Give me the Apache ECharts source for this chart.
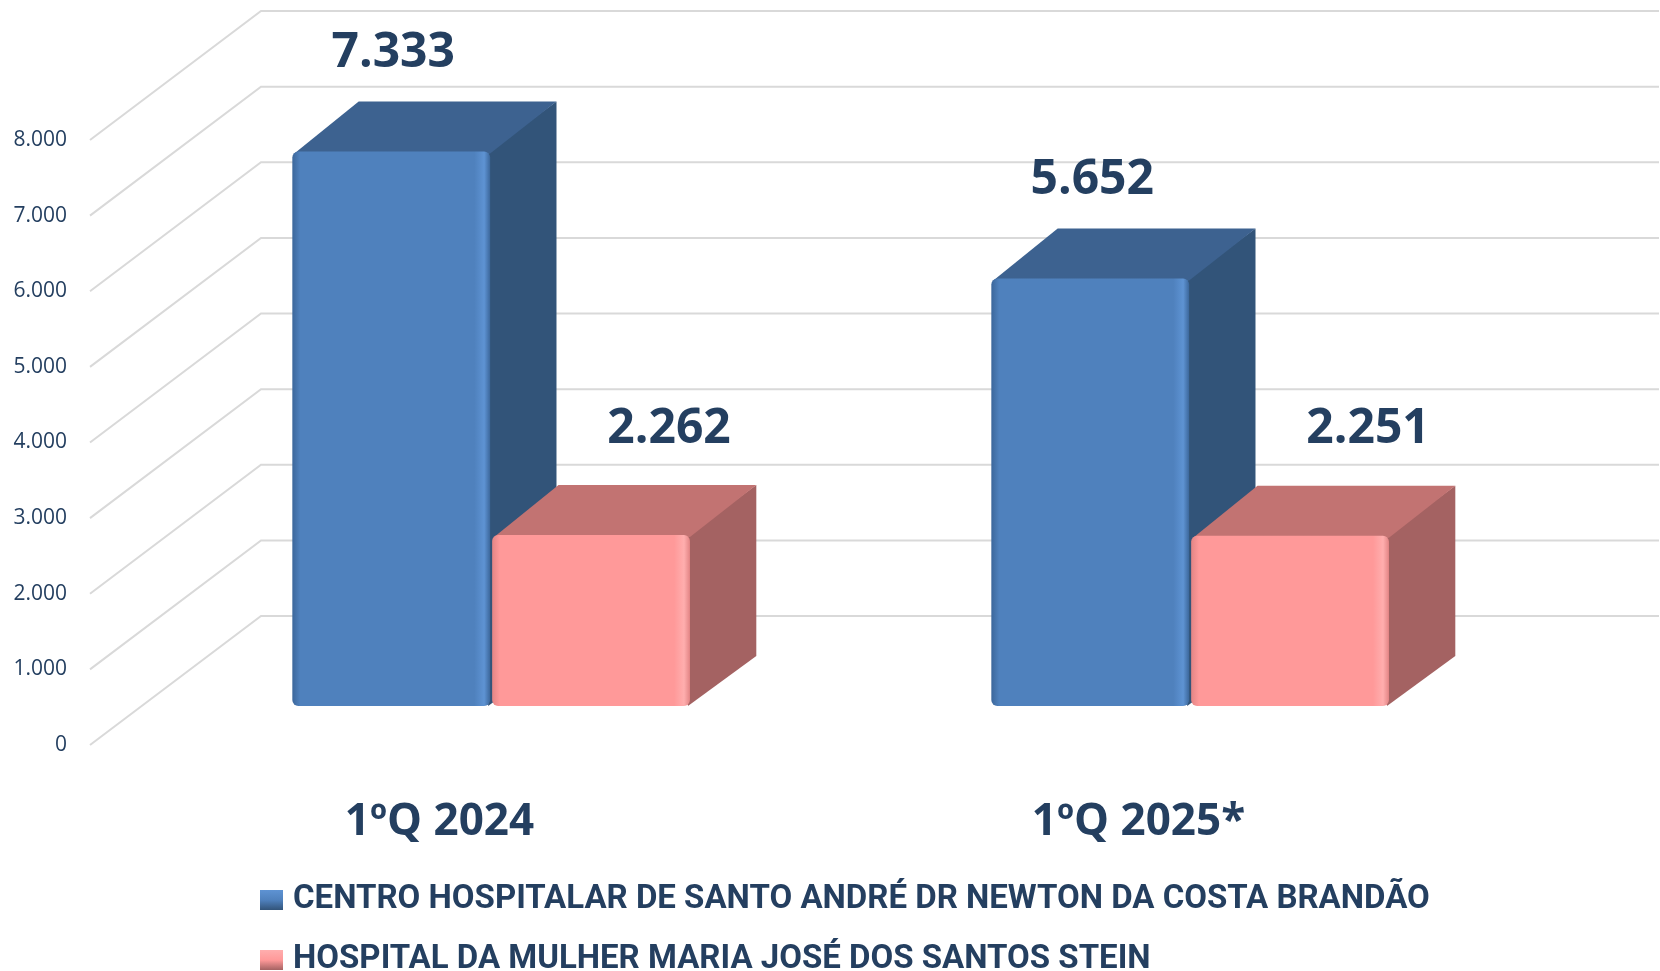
<!DOCTYPE html>
<html>
<head>
<meta charset="utf-8">
<title>1ºQ 2024 x 1ºQ 2025*</title>
<script src="https://cdn.jsdelivr.net/npm/echarts@6/dist/echarts.min.js"></script>
<style>
html, body { margin: 0; padding: 0; background: #fff; }
#chart { width: 1660px; height: 971px; }
</style>
</head>
<body>
<div id="chart"></div>
<script>
// dados do gráfico
var categorias = ['1ºQ 2024', '1ºQ 2025*'];
var centroHospitalar = [7333, 5652];
var hospitalMulher = [2262, 2251];
var ticksY = [0, 1000, 2000, 3000, 4000, 5000, 6000, 7000, 8000];
var nomes = ['CENTRO HOSPITALAR DE SANTO ANDRÉ DR NEWTON DA COSTA BRANDÃO', 'HOSPITAL DA MULHER MARIA JOSÉ DOS SANTOS STEIN'];

// "3D": deslocamento da parede do fundo em pixels
var PROF_X = 171, PROF_Y = -129;
var FRENTE = 0.302, FUNDO = 0.69;
var LARGURA = 0.283;   // fração da banda da categoria
var AZUL_ESCURO = '#243F60';

var cores = [
    {frente: '#4F81BD', claro: '#5E93D3', escuro: '#3C679B', topo: '#3D6290', lado: '#325479'},
    {frente: '#FF9999', claro: '#FFAEAE', escuro: '#E38585', topo: '#C27372', lado: '#A46262'}
];

function milhar(v) {
    return String(v).replace(/\B(?=(\d{3})+(?!\d))/g, '.');
}

function gradFrente(c) {
    return new echarts.graphic.LinearGradient(0, 0, 1, 0, [
        {offset: 0, color: c.escuro},
        {offset: 0.04, color: c.frente},
        {offset: 0.92, color: c.frente},
        {offset: 0.97, color: c.claro},
        {offset: 1, color: c.escuro}
    ]);
}

function gradIcone(c) {
    return new echarts.graphic.LinearGradient(0, 0, 0, 1, [
        {offset: 0, color: c.claro},
        {offset: 0.5, color: c.frente},
        {offset: 1, color: c.lado}
    ]);
}

function barra(s, dxLabel, dyLabel) {
    return function (params, api) {
        var base = api.coord([api.value(0), 0]);
        var topo = api.coord([api.value(0), api.value(1)]);
        var w = api.size([1, 0])[0] * LARGURA;
        var fx = PROF_X * FRENTE, fy = PROF_Y * FRENTE;
        var dx = PROF_X * (FUNDO - FRENTE), dy = PROF_Y * (FUNDO - FRENTE);
        var x0 = base[0] + fx + (s === 0 ? -w - 1 : 1);
        var yb = base[1] + fy, yt = topo[1] + fy;
        var c = cores[s];
        return {
            type: 'group',
            children: [
                {type: 'polygon', shape: {points: [[x0 + w - 2, yt], [x0 + w + dx, yt + dy], [x0 + w + dx, yb + dy], [x0 + w - 2, yb]]},
                    style: {fill: c.lado}},
                {type: 'polygon', shape: {points: [[x0 + 2, yt + 2], [x0 + dx, yt + dy], [x0 + w + dx, yt + dy], [x0 + w, yt + 2]]},
                    style: {fill: c.topo}},
                {type: 'rect', shape: {x: x0, y: yt, width: w, height: yb - yt, r: 6},
                    style: {fill: gradFrente(c)}},
                {type: 'text', style: {
                    text: milhar(api.value(1)), x: x0 + w / 2 + dxLabel, y: yt - dyLabel,
                    align: 'center', verticalAlign: 'middle',
                    fontFamily: 'Open Sans', fontWeight: 'bold', fontSize: 48, fill: AZUL_ESCURO
                }}
            ]
        };
    };
}

function grade(params, api) {
    var y = api.coord([0, api.value(1)])[1];
    var cs = params.coordSys;
    return {
        type: 'polyline',
        shape: {points: [[cs.x, y], [cs.x + PROF_X, y + PROF_Y], [cs.x + cs.width + PROF_X, y + PROF_Y]]},
        style: {stroke: '#D9D9D9', lineWidth: 2, fill: null}
    };
}

// uma legenda por linha (evita quebra em colunas)
function legenda(i, top) {
    return {
        left: 260,
        top: top,
        padding: 0,
        itemWidth: 23,
        itemHeight: 20,
        icon: 'rect',
        selectedMode: false,
        data: [{name: nomes[i], itemStyle: {color: gradIcone(cores[i])}}],
        textStyle: {
            fontFamily: 'Roboto', fontWeight: 'bold', fontSize: 33,
            color: AZUL_ESCURO, lineHeight: 40, padding: [0, 0, 0, 5]
        }
    };
}

var option = {
    animation: false,
    grid: {left: 90, right: 172, top: 140, bottom: 226},
    xAxis: {
        type: 'category',
        data: categorias,
        axisLine: {show: false},
        axisTick: {show: false},
        axisLabel: {
            margin: 55,
            fontFamily: 'Open Sans', fontWeight: 'bold', fontSize: 44, color: AZUL_ESCURO
        }
    },
    yAxis: {
        type: 'value',
        min: 0,
        max: ticksY[ticksY.length - 1],
        interval: ticksY[1] - ticksY[0],
        splitLine: {show: false},
        axisLine: {show: false},
        axisLabel: {
            margin: 23,
            fontFamily: 'Open Sans', fontSize: 21, color: AZUL_ESCURO,
            formatter: function (v) { return milhar(v); }
        }
    },
    legend: [legenda(0, 880), legenda(1, 940)],
    series: [
        {
            name: 'grade',
            type: 'custom',
            z: 1,
            silent: true,
            renderItem: grade,
            encode: {x: 0, y: 1},
            data: ticksY.map(function (v) { return [0, v]; })
        },
        {
            name: nomes[0],
            type: 'custom',
            z: 2,
            clip: false,
            itemStyle: {color: cores[0].frente},
            renderItem: barra(0, 2, 98),
            encode: {x: 0, y: 1},
            data: centroHospitalar.map(function (v, i) { return [i, v]; })
        },
        {
            name: nomes[1],
            type: 'custom',
            z: 3,
            clip: false,
            itemStyle: {color: cores[1].frente},
            renderItem: barra(1, 78, 106),
            encode: {x: 0, y: 1},
            data: hospitalMulher.map(function (v, i) { return [i, v]; })
        }
    ]
};

var myChart = echarts.init(document.getElementById('chart'));
myChart.setOption(option);
</script>
</body>
</html>
